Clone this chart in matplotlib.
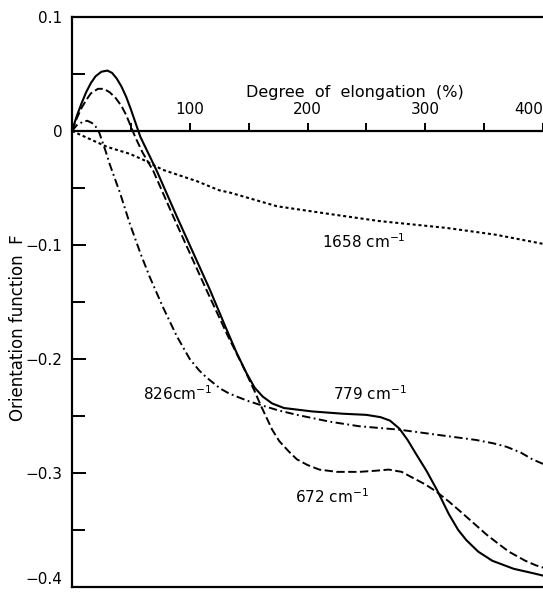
import matplotlib
matplotlib.use("Agg")
import matplotlib.pyplot as plt

# DATA
# Degree of elongation (%) and orientation function F for each band
x_779 = [0, 4, 8, 12, 16, 20, 25, 30, 34, 38, 42, 46, 50, 54, 58, 65, 72, 89,
         103, 117, 130, 140, 148, 155, 162, 170, 180, 204, 230, 250, 262, 270,
         278, 285, 292, 301, 310, 320, 328, 335, 345, 357, 375, 392, 400]
f_779 = [0, 0.013, 0.024, 0.034, 0.042, 0.048, 0.052, 0.053, 0.051, 0.046,
         0.039, 0.030, 0.019, 0.007, -0.005, -0.020, -0.035, -0.075, -0.107,
         -0.139, -0.171, -0.195, -0.212, -0.225, -0.233, -0.239, -0.243,
         -0.246, -0.248, -0.249, -0.251, -0.254, -0.261, -0.271, -0.283,
         -0.298, -0.315, -0.336, -0.350, -0.359, -0.369, -0.377, -0.384,
         -0.388, -0.390]

x_672 = [0, 4, 8, 12, 16, 22, 27, 32, 37, 42, 46, 50, 54, 60, 69, 86, 100, 114,
         132, 145, 155, 160, 165, 170, 176, 184, 191, 200, 210, 225, 244, 258,
         269, 280, 289, 300, 309, 320, 329, 340, 352, 362, 371, 385, 394, 400]
f_672 = [0, 0.011, 0.020, 0.027, 0.033, 0.037, 0.037, 0.034, 0.029, 0.022,
         0.014, 0.004, -0.006, -0.019, -0.035, -0.075, -0.107, -0.139, -0.179,
         -0.206, -0.228, -0.240, -0.251, -0.262, -0.272, -0.281, -0.288,
         -0.293, -0.297, -0.299, -0.299, -0.298, -0.297, -0.299, -0.304,
         -0.310, -0.316, -0.325, -0.333, -0.343, -0.354, -0.362, -0.369,
         -0.377, -0.381, -0.383]

x_826 = [0, 4, 9, 13, 17, 20, 23, 26, 29, 32, 41, 49, 58, 66, 77, 89, 100, 108,
         114, 120, 126, 133, 140, 150, 159, 175, 191, 205, 219, 244, 278, 314,
         343, 358, 369, 381, 391, 400]
f_826 = [0, 0.005, 0.008, 0.009, 0.007, 0.004, -0.001, -0.010, -0.019, -0.029,
         -0.055, -0.081, -0.107, -0.128, -0.154, -0.180, -0.200, -0.210,
         -0.216, -0.221, -0.226, -0.230, -0.233, -0.237, -0.240, -0.245,
         -0.249, -0.252, -0.255, -0.259, -0.262, -0.267, -0.271, -0.274,
         -0.277, -0.282, -0.288, -0.292]

x_1658 = [0, 15, 30, 49, 60, 77, 106, 125, 134, 174, 220, 261, 318, 360, 400]
f_1658 = [0, -0.007, -0.014, -0.020, -0.025, -0.034, -0.044, -0.052, -0.054,
          -0.066, -0.073, -0.079, -0.085, -0.091, -0.099]

# tick values and labels
x_major = [100, 200, 300, 400]
x_minor = [50, 150, 250, 350]
x_labels = ["100", "200", "300", "400"]
y_major = [0.1, 0, -0.1, -0.2, -0.3, -0.4]
y_minor = [0.05, -0.05, -0.15, -0.25, -0.35]
y_labels = ["0.1", "0", "\u22120.1", "\u22120.2", "\u22120.3", "\u22120.4"]

# band labels: text, x, y
band_labels = [
    ("1658 cm$^{-1}$", 248, -0.097),
    ("826cm$^{-1}$", 90, -0.230),
    ("779 cm$^{-1}$", 253, -0.230),
    ("672 cm$^{-1}$", 221, -0.321),
]

plt.rcParams['font.family'] = ['DejaVu Sans']
plt.rcParams['lines.scale_dashes'] = False

fig = plt.figure(figsize=(5.43, 5.93), dpi=100)
ax = fig.add_axes([72 / 543, 6 / 593, 471 / 543, 570 / 593])

# curves
ax.plot(x_779, f_779, color='black', lw=1.5, solid_joinstyle='round')
l672, = ax.plot(x_672, f_672, color='black', lw=1.4)
l672.set_dashes((6, 2.5))
l826, = ax.plot(x_826, f_826, color='black', lw=1.4)
l826.set_dashes((6, 2.5, 1.3, 2.5))
l1658, = ax.plot(x_1658, f_1658, color='black', lw=1.5)
l1658.set_dashes((2.2, 2.0))

ax.set_xlim(0, 400)
ax.set_ylim(-0.4, 0.1)

# frame
for side in ['left', 'top', 'bottom']:
    ax.spines[side].set_linewidth(1.6)
ax.spines['right'].set_visible(False)

# y axis ticks pointing inwards
ax.set_yticks(y_major, y_labels, fontsize=11)
ax.set_yticks(y_minor, minor=True)
ax.tick_params(axis='y', which='major', direction='in', length=10, width=1.4, pad=7)
ax.tick_params(axis='y', which='minor', direction='in', length=9, width=1.4)
ax.set_xticks([])
# keep the lowest label inside the picture
ax.get_yticklabels()[-1].set_verticalalignment('bottom')

ax.set_ylabel("Orientation function  F", fontsize=12, labelpad=6)
ax.yaxis.set_label_coords(-0.095, 0.455)

# x axis drawn along F = 0
sec = ax.secondary_xaxis(0.8)
sec.spines['top'].set_linewidth(1.6)
sec.set_xticks(x_major, x_labels, fontsize=11)
sec.set_xticks(x_minor, minor=True)
sec.tick_params(axis='x', which='both', direction='out', length=6, width=1.4, pad=4)
for t in sec.get_xticklabels():
    if t.get_text() == "400":
        t.set_horizontalalignment('right')

ax.text(240, 0.034, "Degree  of  elongation  (%)", fontsize=11.5,
        ha='center', va='center')

for txt, xx, yy in band_labels:
    ax.text(xx, yy, txt, fontsize=11, ha='center', va='center')

fig.savefig("out.png", dpi=100)
